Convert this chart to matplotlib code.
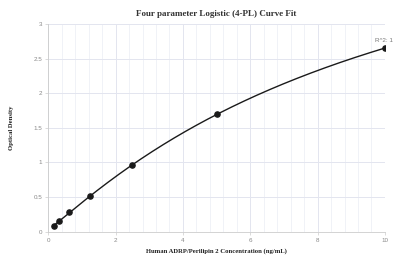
import numpy as np
import matplotlib
matplotlib.use("Agg")
import matplotlib.pyplot as plt
from matplotlib.ticker import MultipleLocator

# standard concentrations (ng/mL) and measured OD
conc = [0.156, 0.312, 0.625, 1.25, 2.5, 5.0, 10.0]
od = [0.08, 0.15, 0.28, 0.52, 0.96, 1.70, 2.65]
r2_label = "R^2: 1"

x = np.array(conc)
y = np.array(od)

# 4PL fit: grid over b, c; a and d solved linearly
best = None
for b in np.linspace(0.5, 3.0, 126):
    for c in np.logspace(0, 2.5, 200):
        g = 1.0 / (1.0 + (x / c) ** b)
        A = np.column_stack([g, 1 - g])
        coef, *_ = np.linalg.lstsq(A, y, rcond=None)
        err = np.sum((A @ coef - y) ** 2)
        if best is None or err < best[0]:
            best = (err, b, c, coef[0], coef[1])
_, b, c, a, d = best

xs = np.linspace(x.min(), x.max(), 300)
ys = d + (a - d) / (1.0 + (xs / c) ** b)

sans = ["Liberation Sans", "DejaVu Sans"]
serif = ["Liberation Serif", "DejaVu Serif"]

fig = plt.figure(figsize=(3.94, 2.60), dpi=100)
ax = fig.add_axes([0.1226, 0.1088, 0.8544, 0.7989])

ax.plot(xs, ys, color="#1a1a1a", lw=1.0, zorder=3)
ax.scatter(x, y, s=14, color="#1a1a1a", zorder=4)
ax.annotate(r2_label, (x[-1], y[-1]), xytext=(-1, 4), textcoords="offset points",
            ha="center", va="bottom", fontsize=4.5, color="#777777", family=sans)

ax.set_xlim(0, 10)
ax.set_ylim(0, 3)
ax.xaxis.set_major_locator(MultipleLocator(2))
ax.xaxis.set_minor_locator(MultipleLocator(0.4))
ax.set_yticks([0, 0.5, 1, 1.5, 2, 2.5, 3])
ax.set_yticklabels(["0", "0.5", "1", "1.5", "2", "2.5", "3"])

ax.grid(True, which="major", color="#e3e5ef", lw=0.7)
ax.grid(True, which="minor", axis="x", color="#eef0f6", lw=0.6)
ax.set_axisbelow(True)

for s in ["top", "right"]:
    ax.spines[s].set_visible(False)
for s in ["left", "bottom"]:
    ax.spines[s].set_color("#cccccc")
    ax.spines[s].set_linewidth(0.6)
ax.tick_params(which="major", length=2.5, width=0.5, color="#cccccc",
               labelsize=4.5, labelcolor="#888888", pad=2)
ax.tick_params(which="minor", length=0)
for lab in ax.get_xticklabels() + ax.get_yticklabels():
    lab.set_family(sans)

ax.set_title("Four parameter Logistic (4-PL) Curve Fit", fontsize=6.5,
             fontweight="bold", family=serif, color="#333333", pad=6)
ax.set_xlabel("Human ADRP/Perilipin 2 Concentration (ng/mL)", fontsize=4.8,
              fontweight="bold", family=serif, color="#222222", labelpad=4)
ax.set_ylabel("Optical Density", fontsize=4.8, fontweight="bold",
              family=serif, color="#222222", labelpad=14)

fig.savefig("out.png", dpi=100)
